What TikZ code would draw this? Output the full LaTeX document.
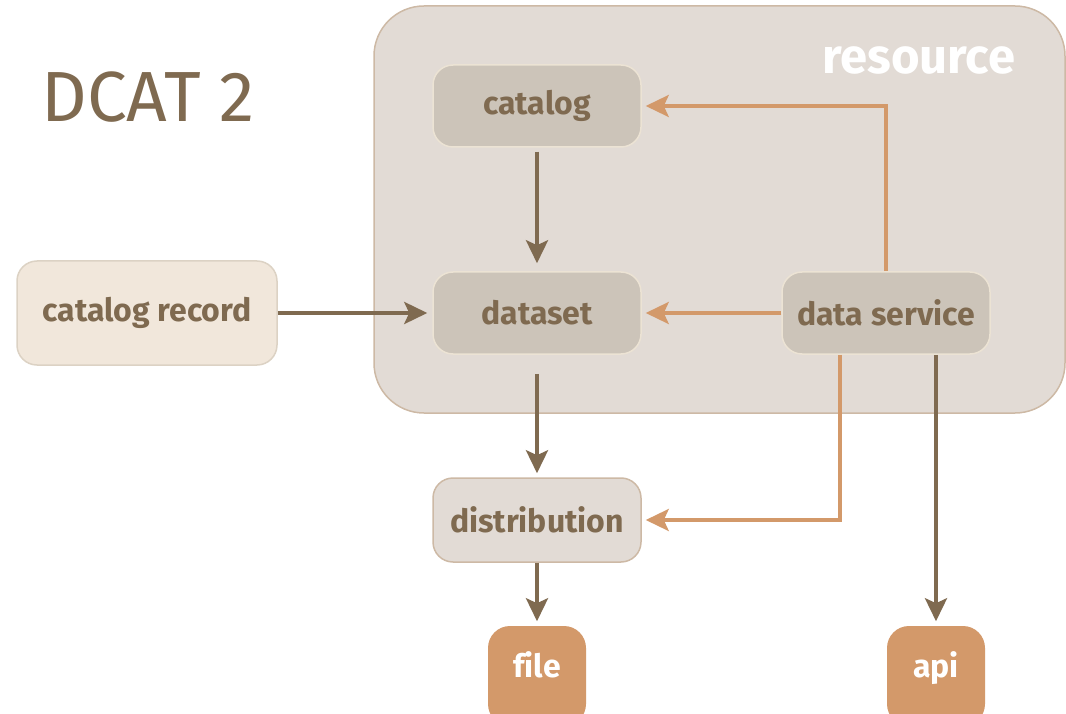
\documentclass[tikz,border=0pt]{standalone}
\usepackage{fontspec}
\setmainfont[Ligatures=NoCommon]{Fira Sans}
\usetikzlibrary{arrows.meta,calc}
\definecolor{ink}{HTML}{7F6A50}
\definecolor{amber}{HTML}{D3996A}
\definecolor{shell}{HTML}{E2DBD5}
\definecolor{shelledge}{HTML}{CDB9A5}
\definecolor{inner}{HTML}{CCC4B9}
\definecolor{inneredge}{HTML}{ECE3D4}
\definecolor{record}{HTML}{F1E7DB}
\definecolor{recordedge}{HTML}{DCD2C4}
\tikzset{
  box/.style={rounded corners=20pt, minimum width=208pt, minimum height=82pt,
    inner sep=0pt, line width=1.5pt, text=ink,
    font=\fontsize{32}{38}\selectfont\bfseries},
  innerbox/.style={box, fill=inner, draw=inneredge},
  endbox/.style={box, fill=amber, draw=none, text=white, minimum width=98pt,
    minimum height=100pt, rounded corners=22pt, text depth=22pt},
  tip/.style={-{Stealth[length=23pt,width=22pt,inset=5pt]}},
  brownarrow/.style={tip, draw=ink, fill=ink, line width=4pt},
  orangearrow/.style={tip, draw=amber, fill=amber, line width=3.5pt}
}
\begin{document}
\begin{tikzpicture}[x=1pt,y=-1pt]
  \useasboundingbox (0,0) rectangle (1066,714);
  \draw[fill=shell, draw=shelledge, line width=1.5pt, rounded corners=50pt]
    (374,6) rectangle (1065,413);
  \draw
    (148,97) node[text=ink, font=\fontsize{71}{76}\selectfont] (title){DCAT 2}
    (1019,60) node[anchor=east, text=white, font=\fontsize{49}{54}\selectfont\bfseries] (resource){resource}
    (537,106) node[innerbox] (catalog){catalog}
    (537,313) node[innerbox] (dataset){dataset}
    (886,313) node[innerbox] (dsvc){data service}
    (147,313) node[box, fill=record, draw=recordedge, minimum width=260pt, minimum height=104pt] (record){catalog record}
    (537,520) node[box, fill=shell, draw=shelledge, minimum height=84pt] (distribution){distribution}
    (537,676) node[endbox] (file){f\kern0pt ile}
    (936,676) node[endbox] (api){api};
  \begin{scope}[brownarrow]
    \draw[shorten <=4pt, shorten >=8pt] (catalog) to (dataset);
    \draw[shorten >=5pt] (record) to (dataset);
    \draw[shorten <=19pt, shorten >=4pt] (dataset) to (distribution);
    \draw[shorten >=4pt] (distribution) to (file);
    \draw[shorten >=4pt] ([xshift=50pt]dsvc.south) to ([xshift=50pt]dsvc.south |- api.north);
  \end{scope}
  \begin{scope}[orangearrow]
    \draw[shorten >=4pt] (dsvc) to (dataset);
    \draw[shorten >=4pt] (dsvc.north) |- (catalog.east);
    \draw[shorten >=4pt] ([xshift=-46pt]dsvc.south) |- (distribution.east);
  \end{scope}
\end{tikzpicture}
\end{document}
